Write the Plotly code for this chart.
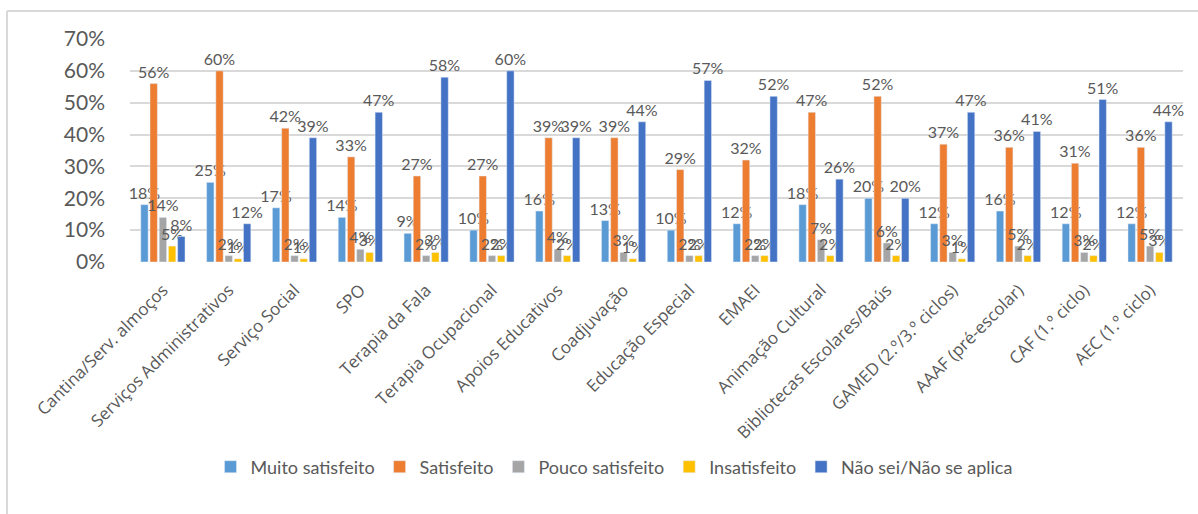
import plotly.graph_objects as go

W, H = 1198, 514
ML, MR, MT, MB = 130, 15, 39, 252

categories = ['Cantina/Serv. almoços', 'Serviços Administrativos', 'Serviço Social', 'SPO',
              'Terapia da Fala', 'Terapia Ocupacional', 'Apoios Educativos', 'Coadjuvação',
              'Educação Especial', 'EMAEI', 'Animação Cultural', 'Bibliotecas Escolares/Baús',
              'GAMED (2.º/3.º ciclos)', 'AAAF (pré-escolar)', 'CAF (1.º ciclo)', 'AEC (1.º ciclo)']

muito_satisfeito = [18, 25, 17, 14, 9, 10, 16, 13, 10, 12, 18, 20, 12, 16, 12, 12]
satisfeito = [56, 60, 42, 33, 27, 27, 39, 39, 29, 32, 47, 52, 37, 36, 31, 36]
pouco_satisfeito = [14, 2, 2, 4, 2, 2, 4, 3, 2, 2, 7, 6, 3, 5, 3, 5]
insatisfeito = [5, 1, 1, 3, 3, 2, 2, 1, 2, 2, 2, 2, 1, 2, 2, 3]
nao_sei = [8, 12, 39, 47, 58, 60, 39, 44, 57, 52, 26, 20, 47, 41, 51, 44]

series = [
    ('Muito satisfeito', muito_satisfeito, '#5B9BD5'),
    ('Satisfeito', satisfeito, '#ED7D31'),
    ('Pouco satisfeito', pouco_satisfeito, '#A5A5A5'),
    ('Insatisfeito', insatisfeito, '#FFC000'),
    ('Não sei/Não se aplica', nao_sei, '#4472C4'),
]

fig = go.Figure()
for name, vals, color in series:
    fig.add_trace(go.Bar(
        x=categories, y=[v / 100 for v in vals], name=name, marker_color=color,
        text=[f'{v}%' for v in vals], textposition='outside', constraintext='none',
        cliponaxis=False, textfont=dict(family='Lato', size=16, color='#595959'),
    ))

pw = W - ML - MR
ph = H - MT - MB
# light frame around the chart area (left + top edges)
fx = (7 - ML) / pw
fy = (H - MB - 11) / ph
fy_bottom = (H - MB - H) / ph
fig.add_shape(type='line', xref='paper', yref='paper', x0=fx, x1=(W - ML) / pw, y0=fy, y1=fy,
              line=dict(color='#D9D9D9', width=2))
fig.add_shape(type='line', xref='paper', yref='paper', x0=fx, x1=fx, y0=fy, y1=fy_bottom,
              line=dict(color='#D9D9D9', width=2))

# caption above the frame, mostly cut off by the top edge as in the source
fig.add_annotation(text='<b>Figura 6: Grau de satisfação dos encarregados de educação com o funcionamento dos serviços, recursos e atividades</b>',
                   xref='paper', yref='paper', x=(578 - ML) / pw, y=(H - MB - 2) / ph,
                   xanchor='center', yanchor='bottom', showarrow=False,
                   font=dict(family='Lato', size=15, color='#000000'))

fig.update_layout(
    width=W, height=H,
    margin=dict(l=ML, r=MR, t=MT, b=MB),
    paper_bgcolor='white', plot_bgcolor='white',
    barmode='group', bargap=0.3, bargroupgap=0.2,
    font=dict(family='Open Sans', color='#595959'),
    legend=dict(orientation='h', x=(614 - ML) / pw, xanchor='center', y=(H - MB - 467) / ph,
                yanchor='middle', font=dict(family='Lato', size=18, color='#595959'),
                itemwidth=30, tracegroupgap=0),
    xaxis=dict(tickangle=-45, tickfont=dict(family='Open Sans', size=17, color='#595959'),
               showline=False, ticks='', ticklabelstandoff=14),
    yaxis=dict(range=[0, 0.7], dtick=0.1, tickformat='.0%', showgrid=True, gridcolor='#D9D9D9',
               gridwidth=2, zeroline=False, showline=False, ticklabelstandoff=24,
               tickfont=dict(family='Lato', size=21, color='#595959')),
)

fig.write_html('out.html', config={'displayModeBar': False},
               post_script="document.body.style.margin='0';")
